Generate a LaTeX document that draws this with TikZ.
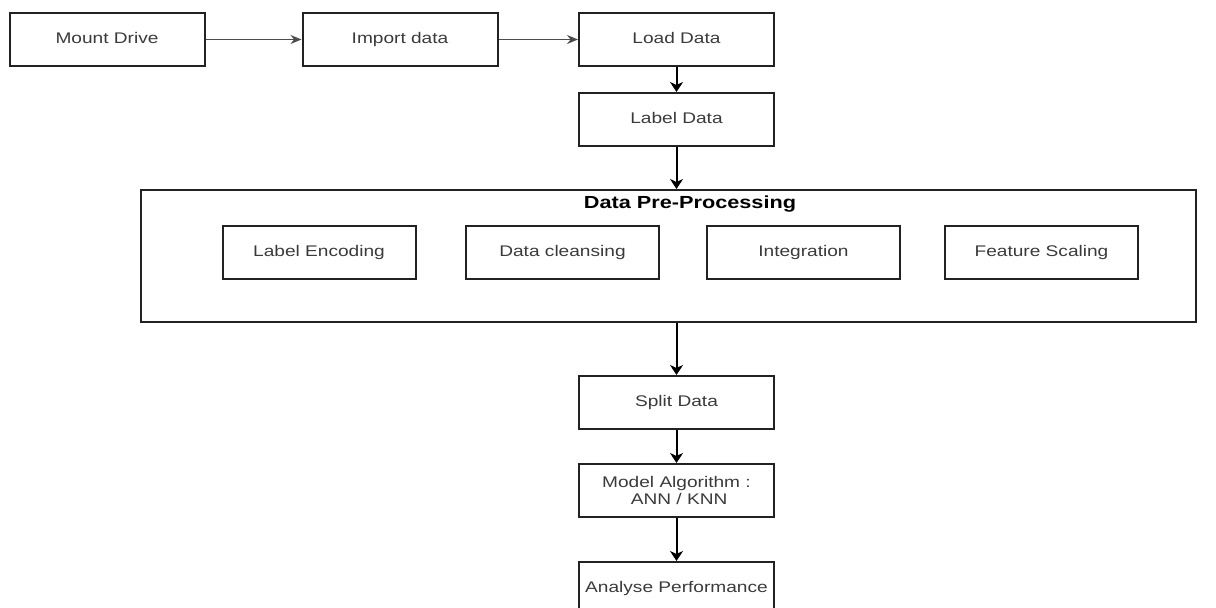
\documentclass[tikz,border=0pt]{standalone}
\usepackage{fontspec}
\setmainfont{Liberation Sans}
\usetikzlibrary{arrows.meta}
\newcommand\sx[1]{\scalebox{1.24}[1]{#1}}
\definecolor{txt}{HTML}{3A3A3A}
\definecolor{edge}{HTML}{222222}
\tikzset{
  box/.style={draw=edge, line width=2pt, rectangle, inner sep=0pt,
    minimum width=195pt, minimum height=53pt, text=txt,
    text height=11pt, text depth=3pt,
    font=\fontsize{15.4}{19}\selectfont, align=center},
  inbox/.style={box, minimum width=193pt},
  harrow/.style={draw=black!70, line width=1pt, -{Stealth[length=11pt,width=9pt]}},
  varrow/.style={draw=black, line width=2pt, -{Stealth[length=10pt,width=13pt,inset=3pt]}},
}
\begin{document}
\begin{tikzpicture}[x=1pt,y=-1pt]
\useasboundingbox (0,0) rectangle (1216,608);
% top row
\node[box] (mount) at (107,39.5) {\sx{Mount Drive}};
\node[box] (import) at (400,39.5) {\sx{Import data}};
\node[box] (load) at (676.5,39.5) {\sx{Load Data}};
\node[box] (label) at (676.5,119.5) {\sx{Label Data}};
% pre-processing container
\node[draw=edge, line width=2pt, rectangle, inner sep=0pt,
  minimum width=1055pt, minimum height=132pt] (pre) at (668.5,256) {};
\node[font=\fontsize{17.5}{20}\selectfont\bfseries, text=black] (title) at (690,204) {\sx{Data Pre-Processing}};
\node[inbox] (enc) at (319,252.5) {\sx{Label Encoding}};
\node[inbox] (clean) at (562.5,252.5) {\sx{Data cleansing}};
\node[inbox] (integ) at (803.5,252.5) {\sx{Integration}};
\node[inbox] (scale) at (1041.5,252.5) {\sx{Feature Scaling}};
% lower column
\node[box, text height=, text depth=] (split) at (676.5,402.5) {\sx{Split Data}};
\node[box, text height=, text depth=] (model) at (676.5,490.5) {\sx{Model Algorithm :}\\[-2pt]\sx{\ ANN / KNN}};
\node[box] (analyse) at (676.5,588.5) {\sx{Analyse Performance}};
% connectors
\draw[harrow] (mount) -- (import);
\draw[harrow] (import) -- (load);
\draw[varrow] (load) -- (label);
\draw[varrow] (label.south) -- (label.south |- pre.north);
\draw[varrow] (pre.south -| split.north) -- (split.north);
\draw[varrow] (split) -- (model);
\draw[varrow] (model) -- (analyse);
\end{tikzpicture}
\end{document}
